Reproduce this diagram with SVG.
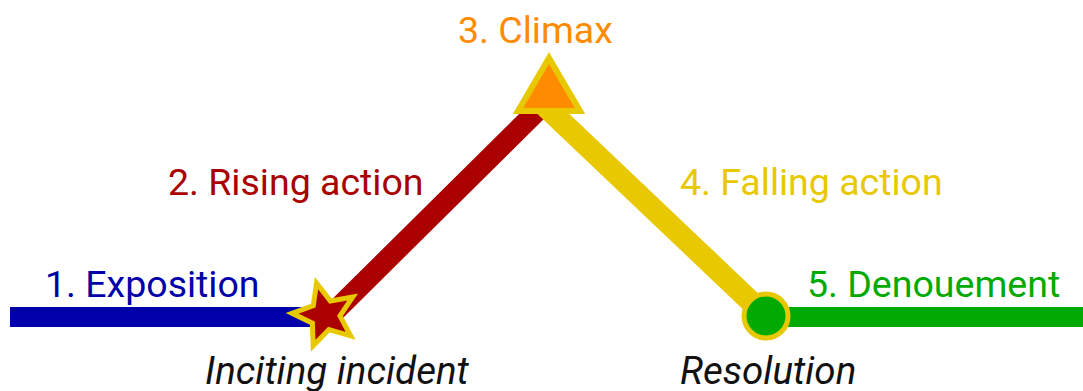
<svg xmlns="http://www.w3.org/2000/svg" width="1083" height="391" viewBox="0 0 1083 391">
<style>
.t{font-family:Roboto,"Liberation Sans",sans-serif;font-size:37.5px}
.i{font-family:Roboto,"Liberation Sans",sans-serif;font-size:38.5px;font-style:italic;fill:#111}
.ln{fill:none;stroke-linecap:butt}
</style>
<rect width="1083" height="391" fill="#fff"/>
<g id="connectors">
<line class="ln" x1="10" y1="317" x2="312" y2="317" stroke="#0000AA" stroke-width="20"/>
<line class="ln" x1="785" y1="317" x2="1083" y2="317" stroke="#00AA00" stroke-width="20"/>
<line class="ln" x1="328" y1="318" x2="540" y2="108" stroke="#AA0000" stroke-width="21"/>
<line class="ln" x1="545" y1="106" x2="766" y2="316" stroke="#E8C800" stroke-width="22"/>
</g>
<g id="exposition">
<text class="t" x="45" y="297" fill="#0000AA">1. Exposition</text>
</g>
<g id="inciting">
<polygon points="316.5,283.1 330.4,301 352.7,297 340,315.8 350.6,335.8 328.9,329.5 313.2,345.8 312.4,323.2 292,313.3 313.3,305.6" fill="#AA0000" stroke="#E8C800" stroke-width="5" stroke-linejoin="miter"/>
<text class="i" x="205" y="384">Inciting incident</text>
</g>
<g id="rising">
<text class="t" x="168" y="195" fill="#AA0000">2. Rising action</text>
</g>
<g id="climax">
<polygon points="549,58 580,111 518,111" fill="#FF8C00" stroke="#E8C800" stroke-width="6" stroke-linejoin="miter"/>
<text class="t" x="458" y="43" fill="#FF8C00">3. Climax</text>
</g>
<g id="falling">
<text class="t" x="680" y="195" fill="#E8C800">4. Falling action</text>
</g>
<g id="resolution">
<circle cx="766" cy="316" r="22" fill="#00AA00" stroke="#E8C800" stroke-width="5"/>
<text class="i" x="680" y="384">Resolution</text>
</g>
<g id="denouement">
<text class="t" x="807" y="297" fill="#00AA00">5. Denouement</text>
</g>
</svg>
